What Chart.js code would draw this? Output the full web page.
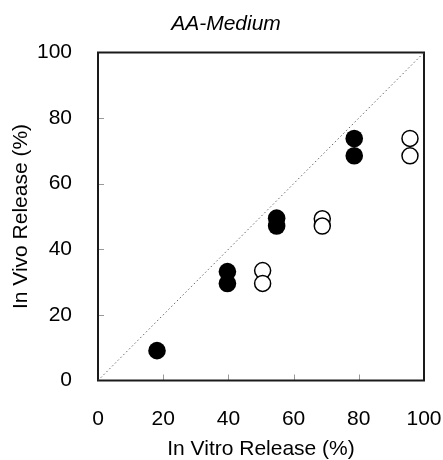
<!DOCTYPE html>
<html>
<head>
<meta charset="utf-8">
<script src="https://cdn.jsdelivr.net/npm/chart.js@4/dist/chart.umd.min.js"></script>
<style>
  html, body { margin: 0; padding: 0; background: #fff; }
  #wrap { width: 443px; height: 460px; }
</style>
</head>
<body>
<div id="wrap"><canvas id="ivivcChart"></canvas></div>
<script>
// values
var vitroFilled = [18.1, 39.7, 39.7, 54.8, 54.8, 78.6, 78.6]
var vivoFilled = [9.1, 33.2, 29.6, 49.5, 47.1, 73.8, 68.5]
var vitroOpen = [50.5, 50.5, 68.8, 68.8, 95.7, 95.7]
var vivoOpen = [33.5, 29.6, 49.3, 47.1, 73.8, 68.5]
var unityLine = [0, 100]
var tickValues = [0, 20, 40, 60, 80, 100]

function toPoints(xs, ys) {
    return xs.map((x, i) => ({x: x, y: ys[i]}));
}

var fontFamily = '"Liberation Sans", Arial, Helvetica, sans-serif'

// box round the plot plus short inward tick marks
var frameBox = {
    id: 'frameBox',
    beforeDatasetsDraw(chart) {
        let ctx = chart.ctx;
        let a = chart.chartArea;
        let xs = chart.scales.x, ys = chart.scales.y;
        ctx.save();
        ctx.strokeStyle = '#999';
        ctx.lineWidth = 1;
        tickValues.slice(1, -1).forEach((v) => {
            let px = Math.round(xs.getPixelForValue(v)) + 0.5;
            ctx.beginPath();
            ctx.moveTo(px, a.bottom);
            ctx.lineTo(px, a.bottom - 6);
            ctx.stroke();
            let py = Math.round(ys.getPixelForValue(v)) + 0.5;
            ctx.beginPath();
            ctx.moveTo(a.left, py);
            ctx.lineTo(a.left + 6, py);
            ctx.stroke();
        });
        ctx.strokeStyle = '#1a1a1a';
        ctx.lineWidth = 2;
        ctx.strokeRect(a.left, a.top, a.right - a.left, a.bottom - a.top);
        ctx.restore();
    }
}

var ctx = document.getElementById('ivivcChart').getContext('2d');
var ivivcChart = new Chart(ctx, {
    type: 'scatter',
    data: {
        datasets: [
            {
                type: 'line',
                data: toPoints(unityLine, unityLine),
                borderColor: '#666',
                borderWidth: 1,
                borderDash: [1.5, 2.5],
                pointRadius: 0,
                fill: false
            },
            {
                data: toPoints(vitroFilled, vivoFilled),
                backgroundColor: '#000',
                borderColor: '#000',
                borderWidth: 0,
                pointRadius: 8.8
            },
            {
                data: toPoints(vitroOpen, vivoOpen),
                backgroundColor: '#fff',
                borderColor: '#000',
                borderWidth: 1.5,
                pointRadius: 8
            }
        ]
    },
    options: {
        responsive: true,
        maintainAspectRatio: false,
        animation: false,
        events: [],
        layout: {padding: {left: 9, right: 0, top: 0, bottom: 0}},
        plugins: {
            legend: {display: false},
            tooltip: {enabled: false},
            title: {
                display: true,
                text: 'AA-Medium',
                color: '#000',
                font: {family: fontFamily, size: 21, style: 'italic', weight: 'normal'},
                padding: {top: 11.4, bottom: 15.9}
            }
        },
        scales: {
            x: {
                type: 'linear',
                min: 0,
                max: 100,
                afterFit: function (scale) {
                    scale.height = 79.5
                    scale.paddingLeft = 0
                    scale.paddingRight = 19
                },
                afterBuildTicks: function (scale) { scale.ticks = tickValues.map((v) => ({value: v})) },
                grid: {display: false},
                border: {display: false},
                ticks: {
                    color: '#000',
                    padding: 18,
                    font: {family: fontFamily, size: 21}
                },
                title: {
                    display: true,
                    text: 'In Vitro Release (%)',
                    color: '#000',
                    font: {family: fontFamily, size: 21, lineHeight: 1},
                    padding: {top: 0, bottom: 0}
                }
            },
            y: {
                type: 'linear',
                min: 0,
                max: 100,
                afterFit: function (scale) { scale.width = 89 },
                afterBuildTicks: function (scale) { scale.ticks = tickValues.map((v) => ({value: v})) },
                grid: {display: false},
                border: {display: false},
                ticks: {
                    color: '#000',
                    padding: 18,
                    font: {family: fontFamily, size: 21}
                },
                title: {
                    display: true,
                    text: 'In Vivo Release (%)',
                    color: '#000',
                    font: {family: fontFamily, size: 21, lineHeight: 1},
                    padding: {top: 2, bottom: 0}
                }
            }
        }
    },
    plugins: [frameBox]
});
</script>
</body>
</html>
